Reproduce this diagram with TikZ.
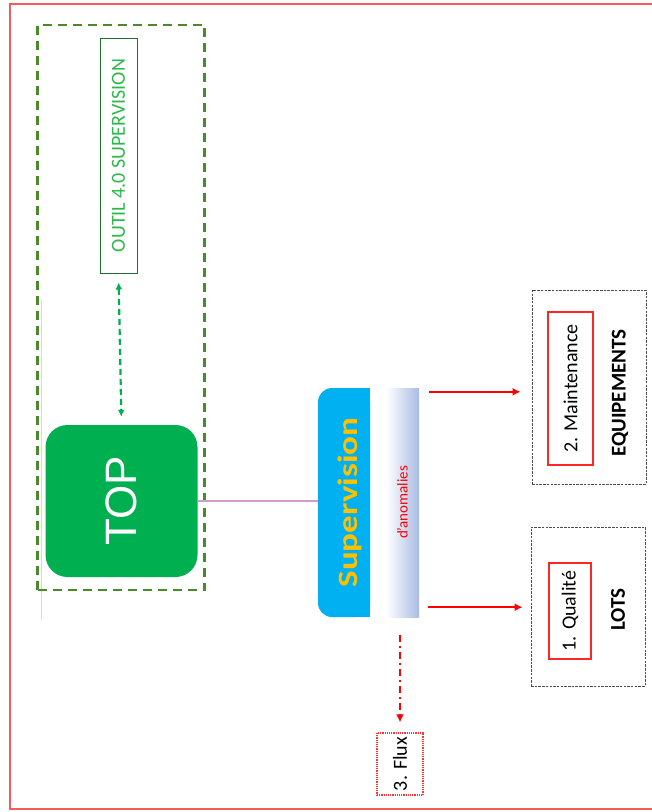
\documentclass[tikz,border=0pt]{standalone}
\usepackage{fontspec}
\setmainfont{Carlito}
\newfontfamily\topfont{Liberation Sans}
\usepackage{graphicx}
\usetikzlibrary{arrows.meta,positioning,calc}
\definecolor{topgreen}{HTML}{00B050}
\definecolor{zonegreen}{HTML}{4A8A2A}
\definecolor{outilgreen}{HTML}{2DB84A}
\definecolor{supblue}{HTML}{00B0F0}
\definecolor{supyellow}{HTML}{FFC000}
\definecolor{anomblue}{HTML}{A9BCE4}
\definecolor{framered}{HTML}{F25C5C}
\definecolor{linkpink}{HTML}{D39CD0}
\newcommand{\vtext}[1]{\rotatebox{90}{#1}}

\begin{document}
\begin{tikzpicture}[x=1pt, y=-1pt, >=Latex, font=\fontsize{20}{22}\selectfont,
  box/.style={draw=black!70, dash pattern=on 2.5pt off 1.2pt, line width=0.9pt, minimum width=114pt, inner sep=0pt},
  tag/.style={draw=red!85, line width=1.3pt, fill=white, inner sep=0pt},
  redarrow/.style={red, line width=2pt, -{Latex[length=8pt,width=8pt]}}]
  \useasboundingbox (0,0) rectangle (652,812);
  \draw[framered, line width=2.5pt] (652,4) -- (10,4) -- (10,809) -- (652,809);
  \draw[gray!30, line width=0.8pt] (41,300) -- (41,620);
  % zone outil / TOP
  \node[draw=zonegreen, line width=2.6pt, dash pattern=on 9pt off 6pt, minimum width=167pt, minimum height=565pt] (zone) at (121,307.5) {};
  \node[draw=outilgreen!60!black, line width=1pt, fill=white, minimum width=37pt, minimum height=235pt, inner sep=0pt, text=outilgreen] (outil) at (118.5,155.5) {\vtext{OUTIL 4.0 SUPERVISION}};
  \node[fill=topgreen, rounded corners=22pt, minimum width=152pt, minimum height=152pt, text=white, font=\topfont\fontsize{44}{44}\selectfont] (top) at (121.5,501) {\vtext{TOP}};
  \draw[topgreen, line width=2.2pt, dash pattern=on 6pt off 4pt, shorten <=9pt, shorten >=8pt, {Latex[length=7pt,width=7pt]}-{Latex[length=7pt,width=7pt]}] (outil.south) -- (top.north);
  % supervision
  \node[fill=supblue, rounded corners=14pt, minimum width=52pt, minimum height=229pt] (sup) at (344,502.5) {};
  \fill[supblue] (sup.north) rectangle (sup.south east);
  \node[text=supyellow, font=\bfseries\fontsize{28}{28}\selectfont] (suplbl) at ([xshift=6pt]sup.center) {\vtext{\scalebox{1.25}[1]{Supervision}}};
  \node[left color=white, right color=anomblue, minimum width=33pt, minimum height=229pt, inner sep=0pt, text=red, font=\fontsize{15}{15}\selectfont] (anom) at (402.5,502.5) {\vtext{d'anomalies}};
  \draw[linkpink, line width=1.6pt] (top.east) -- (top.east -| sup.west);
  % destinations
  \node[box, minimum height=194pt] (equip) at (589,387) {};
  \node[tag, minimum width=45pt, minimum height=153pt] (maint) at (570.5,388.5) {\vtext{2. Maintenance}};
  \node[font=\bfseries\fontsize{21}{21}\selectfont] (equiplbl) at (620,393) {\vtext{EQUIPEMENTS}};
  \node[box, minimum height=159pt] (lots) at (588,606.5) {};
  \node[tag, minimum width=42pt, minimum height=96pt] (qual) at (570,611) {\vtext{1. Qualité}};
  \node[font=\bfseries\fontsize{21}{21}\selectfont] (lotslbl) at (618,609.5) {\vtext{LOTS}};
  \node[draw=red!80, densely dotted, line width=1.2pt, minimum width=46pt, minimum height=62pt, inner sep=0pt] (flux) at (400,764) {\vtext{3. Flux}};
  \draw[redarrow] ($(anom.north east)+(10,4)$) -- ($(anom.north east -| equip.west)+(-11,4)$);
  \draw[redarrow] ($(anom.south east)+(9,-10)$) -- ($(anom.south east -| lots.west)+(-8,-10)$);
  \draw[redarrow, line width=1.8pt, dash pattern=on 7pt off 4pt on 2pt off 4pt, shorten <=18pt, shorten >=10pt] (flux.north |- anom.south) -- (flux.north);
\end{tikzpicture}
\end{document}
